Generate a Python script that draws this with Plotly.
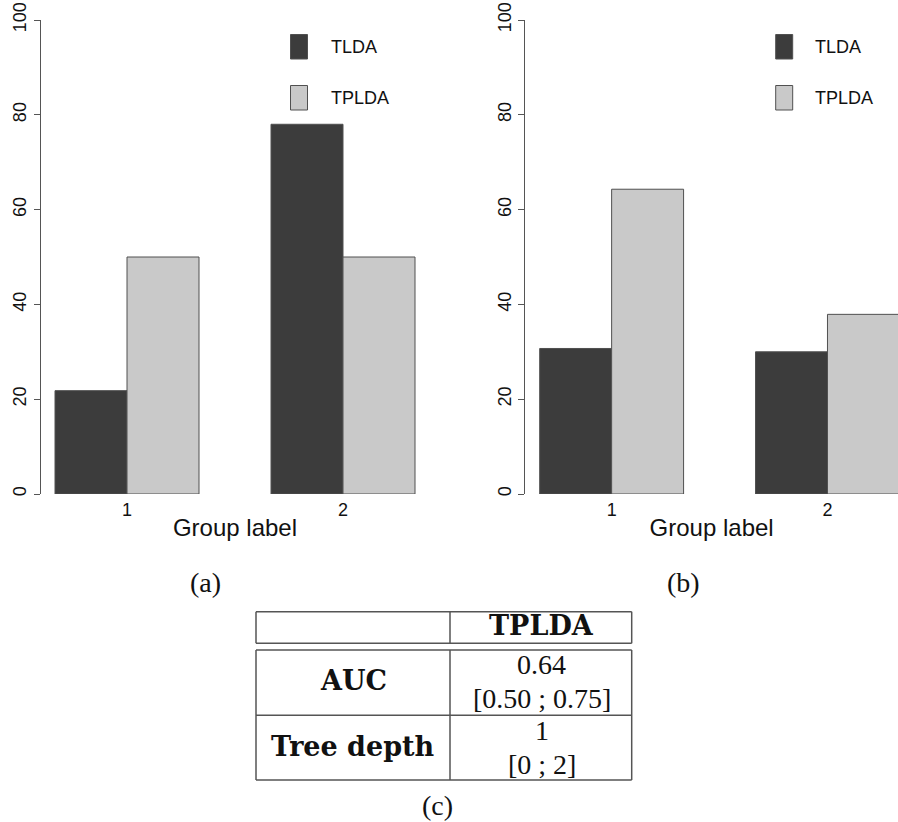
import plotly.graph_objects as go

# ---------------- data ----------------
groups = ["1", "2"]
series_names = ["TLDA", "TPLDA"]
panel_a_tlda = [21.8, 78]
panel_a_tplda = [50, 50]
panel_b_tlda = [30.7, 30.0]
panel_b_tplda = [64.3, 37.9]
y_ticks = [0, 20, 40, 60, 80, 100]
x_title = "Group label"
panel_labels = ["(a)", "(b)", "(c)"]
table_header = ["", "TPLDA"]
table_rows = ["AUC", "Tree depth"]
table_values = [["0.64", "[0.50 ; 0.75]"], ["1", "[0 ; 2]"]]

# ---------------- helpers ----------------
W, H = 898, 822
def px(x):
    return x / W
def py(y):
    return 1 - y / H

DARK = "#3c3c3c"
LIGHT = "#c9c9c9"
EDGE = "#505050"
AXC = "#555555"
SERIF = "Liberation Serif, Times New Roman, serif"
SERIF_B = "DejaVu Serif, serif"
SANS = "Liberation Sans, Arial, sans-serif"

fig = go.Figure()
panels = [(panel_a_tlda, panel_a_tplda), (panel_b_tlda, panel_b_tplda)]
for i, (tl, tp) in enumerate(panels):
    xa = "x" if i == 0 else "x2"
    ya = "y" if i == 0 else "y2"
    fig.add_trace(go.Bar(x=groups, y=tl, name=series_names[0], xaxis=xa, yaxis=ya,
                         marker=dict(color=DARK, line=dict(color=EDGE, width=1)),
                         showlegend=False, hoverinfo="skip"))
    fig.add_trace(go.Bar(x=groups, y=tp, name=series_names[1], xaxis=xa, yaxis=ya,
                         marker=dict(color=LIGHT, line=dict(color=EDGE, width=1)),
                         showlegend=False, hoverinfo="skip"))

TICKFONT = dict(family="Liberation Sans", size=18, color="#111")
xcommon = dict(type="category", showline=False, showgrid=False, zeroline=False,
               ticks="", tickfont=TICKFONT, automargin=False, ticklabelstandoff=3,
               title=dict(text=x_title, font=dict(family="Liberation Sans", size=24, color="#111"),
                          standoff=0))
ycommon = dict(range=[0, 100], tickvals=y_ticks, ticks="outside", ticklen=6, tickcolor=AXC,
               showline=True, linecolor=AXC, linewidth=1, showgrid=False, zeroline=False,
               tickangle=-90, tickfont=TICKFONT, automargin=False)

YDOM = [py(494), py(20)]
fig.update_layout(
    width=W, height=H, autosize=False,
    margin=dict(l=0, r=0, t=0, b=0, autoexpand=False),
    paper_bgcolor="white", plot_bgcolor="white",
    barmode="group", bargap=1/3, bargroupgap=0,
    xaxis=dict(domain=[px(40.6), px(429.4)], range=[-0.4, 1.4], anchor="y", **xcommon),
    yaxis=dict(domain=YDOM, anchor="x", **ycommon),
    xaxis2=dict(domain=[px(525.3), 1.0], range=[-0.4, 1.3267], anchor="y2", **xcommon),
    yaxis2=dict(domain=YDOM, anchor="x2", **ycommon),
)

shapes = []
annotations = []

# legends
for lx, tx in [(290.5, 328.5), (775.7, 813.3)]:
    for (y0, y1, col, name) in [(34.5, 59, DARK, series_names[0]),
                                (85.5, 110, LIGHT, series_names[1])]:
        shapes.append(dict(type="rect", xref="paper", yref="paper",
                           x0=px(lx), x1=px(lx + 17), y0=py(y1), y1=py(y0),
                           fillcolor=col, line=dict(color=EDGE, width=1)))
        annotations.append(dict(xref="paper", yref="paper", x=px(tx), y=py((y0 + y1) / 2),
                                text=name, showarrow=False, xanchor="left", yanchor="middle",
                                font=dict(family=SANS, size=18, color="#111")))

# panel labels
for lab, (cx, cy) in zip(panel_labels, [(205, 582), (683, 582), (437, 805)]):
    annotations.append(dict(xref="paper", yref="paper", x=px(cx), y=py(cy), text=lab,
                            showarrow=False, xanchor="center", yanchor="middle",
                            font=dict(family=SERIF, size=28, color="#111")))

# table lines
LC = "#555555"
def line(x0, y0, x1, y1):
    shapes.append(dict(type="line", xref="paper", yref="paper",
                       x0=px(x0), y0=py(y0), x1=px(x1), y1=py(y1),
                       line=dict(color=LC, width=1.5)))
tx0, tx1, tcol = 256, 631.7, 450
line(tx0, 611.7, tx1, 611.7)
line(tx0, 643.3, tx1, 643.3)
line(tx0, 611.7, tx0, 643.3)
line(tx1, 611.7, tx1, 643.3)
line(tcol, 611.7, tcol, 643.3)
line(tx0, 650, tx1, 650)
line(tx0, 715.3, tx1, 715.3)
line(tx0, 780, tx1, 780)
line(tx0, 650, tx0, 780)
line(tx1, 650, tx1, 780)
line(tcol, 650, tcol, 780)

def text(x, y, s, bold=False, size=28):
    annotations.append(dict(xref="paper", yref="paper", x=px(x), y=py(y),
                            text=("<b>%s</b>" % s) if bold else s, showarrow=False,
                            xanchor="center", yanchor="middle",
                            font=dict(family=SERIF_B if bold else SERIF, size=size, color="#111")))

text(541.7, 625, table_header[1], bold=True, size=27)
row_centers = [680, 746]
val_lines = [(664, 698), (730, 764)]
for r, name in enumerate(table_rows):
    text(353, row_centers[r], name, bold=True, size=27)
    text(541.7, val_lines[r][0], table_values[r][0], size=28)
    text(541.7, val_lines[r][1], table_values[r][1], size=28)

fig.update_layout(shapes=shapes, annotations=annotations)
fig.write_html("out.html")
